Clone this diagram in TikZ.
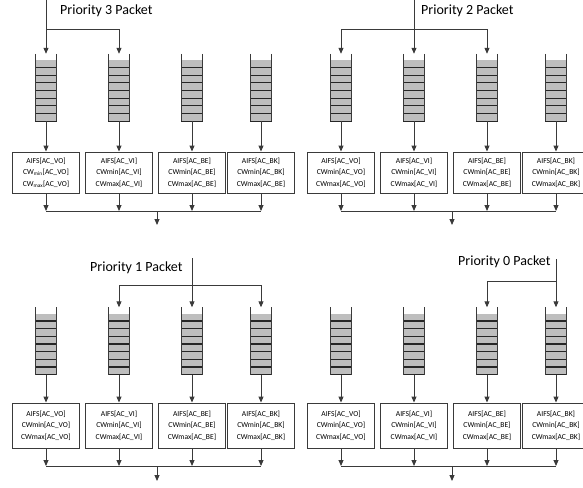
\documentclass[tikz,border=0pt]{standalone}
\usepackage{fontspec}
\setmainfont{Carlito}
\usetikzlibrary{arrows.meta,calc}
\definecolor{qgray}{HTML}{BEBEBE}
\definecolor{ln}{HTML}{3A3A3A}
\tikzset{
  qbox/.style={draw=ln, line width=0.9pt, fill=white, minimum width=67pt, minimum height=41pt,
    inner sep=0pt, align=center, font=\fontsize{7.6}{11.5}\selectfont},
  qfill/.style={fill=qgray, minimum width=21pt, minimum height=61pt, inner sep=0pt, draw=none},
  cell/.style={draw=black!85, line width=1.2pt},
  wall/.style={draw=ln, line width=1.1pt},
  conn/.style={draw=ln, line width=0.9pt},
  arr/.style={conn, -{Triangle[width=5pt,length=6pt]}},
  lbl/.style={font=\fontsize{14}{16}\selectfont, inner sep=0pt, anchor=west},
}
\newcommand\drawqueue[3]{%
  \node[qfill] (#1) at (#2,#3) {};
  \foreach \k in {1,...,8}
    \draw[cell] ($(#1.north west)!\k/8!(#1.south west)$) -- ($(#1.north east)!\k/8!(#1.south east)$);
  \draw[wall] ([yshift=6pt]#1.north west) -- (#1.south west);
  \draw[wall] ([yshift=6pt]#1.north east) -- (#1.south east);
  \coordinate (#1top) at ([yshift=6pt]#1.north);
}
\begin{document}
\begin{tikzpicture}[x=1pt,y=-1pt]
\useasboundingbox (0,0) rectangle (583,487);
\clip (0,0) rectangle (583,487);

% ---------- queues ----------
\foreach \p/\xo/\yc in {TL/0/90.5, TR/295/90.5, BL/0/344, BR/295/344} {
  \drawqueue{q\p1}{46+\xo}{\yc}
  \drawqueue{q\p2}{119+\xo}{\yc}
  \drawqueue{q\p3}{192+\xo}{\yc}
  \drawqueue{q\p4}{261+\xo}{\yc}
}

% ---------- boxes ----------
\node[qbox] (bTL1) at (46,172.5) {AIFS[AC\_VO]\\CW\textsubscript{min}[AC\_VO]\\CW\textsubscript{max}[AC\_VO]};
\node[qbox] (bTL2) at (119,172.5) {AIFS[AC\_VI]\\CWmin[AC\_VI]\\CWmax[AC\_VI]};
\node[qbox] (bTL3) at (192,172.5) {AIFS[AC\_BE]\\CWmin[AC\_BE]\\CWmax[AC\_BE]};
\node[qbox] (bTL4) at (261,172.5) {AIFS[AC\_BK]\\CWmin[AC\_BK]\\CWmax[AC\_BE]};

\node[qbox] (bTR1) at (341,172.5) {AIFS[AC\_VO]\\CWmin[AC\_VO]\\CWmax[AC\_VO]};
\node[qbox] (bTR2) at (414,172.5) {AIFS[AC\_VI]\\CWmin[AC\_VI]\\CWmax[AC\_VI]};
\node[qbox] (bTR3) at (487,172.5) {AIFS[AC\_BE]\\CWmin[AC\_BE]\\CWmax[AC\_BE]};
\node[qbox] (bTR4) at (556,172.5) {AIFS[AC\_BK]\\CWmin[AC\_BK]\\CWmax[AC\_BK]};

\node[qbox,minimum height=45pt] (bBL1) at (46,425.5) {AIFS[AC\_VO]\\CWmin[AC\_VO]\\CWmax[AC\_VO]};
\node[qbox,minimum height=45pt] (bBL2) at (119,425.5) {AIFS[AC\_VI]\\CWmin[AC\_VI]\\CWmax[AC\_VI]};
\node[qbox,minimum height=45pt] (bBL3) at (192,425.5) {AIFS[AC\_BE]\\CWmin[AC\_BE]\\CWmax[AC\_BE]};
\node[qbox,minimum height=45pt] (bBL4) at (261,425.5) {AIFS[AC\_BK]\\CWmin[AC\_BK]\\CWmax[AC\_BK]};

\node[qbox,minimum height=45pt] (bBR1) at (341,425.5) {AIFS[AC\_VO]\\CWmin[AC\_VO]\\CWmax[AC\_VO]};
\node[qbox,minimum height=45pt] (bBR2) at (414,425.5) {AIFS[AC\_VI]\\CWmin[AC\_VI]\\CWmax[AC\_VI]};
\node[qbox,minimum height=45pt] (bBR3) at (487,425.5) {AIFS[AC\_BE]\\CWmin[AC\_BE]\\CWmax[AC\_BE]};
\node[qbox,minimum height=45pt] (bBR4) at (556,425.5) {AIFS[AC\_BK]\\CWmin[AC\_BK]\\CWmax[AC\_BK]};

% ---------- merge coordinates ----------
\coordinate (mTL) at (157,211); \coordinate (oTL) at (157,225);
\coordinate (mTR) at (452,211); \coordinate (oTR) at (452,225);
\coordinate (mBL) at (157,466); \coordinate (oBL) at (157,481);
\coordinate (mBR) at (452,466); \coordinate (oBR) at (452,481);

\foreach \p in {TL,TR,BL,BR} {
  \foreach \i in {1,2,3,4} {
    \draw[arr] (q\p\i.south) -- (b\p\i.north);
    \draw[arr] (b\p\i.south) -- (b\p\i.south |- m\p);
  }
  \draw[conn] (b\p1.south |- m\p) -- (b\p4.south |- m\p);
  \draw[arr] (m\p) -- (o\p);
}

% ---------- inputs ----------
\node[lbl] (lTL) at (60,11) {Priority 3 Packet};
\coordinate (sTL) at (46,0); \coordinate (jTL) at (46,29);
\draw[arr] (sTL) -- (qTL1top);
\draw[arr] (jTL) -| (qTL2top);

\node[lbl] (lTR) at (421,11) {Priority 2 Packet};
\coordinate (sTR) at (414,0); \coordinate (jTR) at (414,29);
\draw[arr] (sTR) -- (qTR2top);
\draw[arr] (jTR) -| (qTR1top);
\draw[arr] (jTR) -| (qTR3top);

\node[lbl] (lBL) at (90,268) {Priority 1 Packet};
\coordinate (sBL) at (192,258); \coordinate (jBL) at (192,285);
\draw[arr] (sBL) -- (qBL3top);
\draw[arr] (jBL) -| (qBL2top);
\draw[arr] (jBL) -| (qBL4top);

\node[lbl] (lBR) at (458,262) {Priority 0 Packet};
\coordinate (sBR) at (556,259); \coordinate (jBR) at (556,281);
\draw[arr] (sBR) -- (qBR4top);
\draw[arr] (jBR) -| (qBR3top);
\end{tikzpicture}
\end{document}
